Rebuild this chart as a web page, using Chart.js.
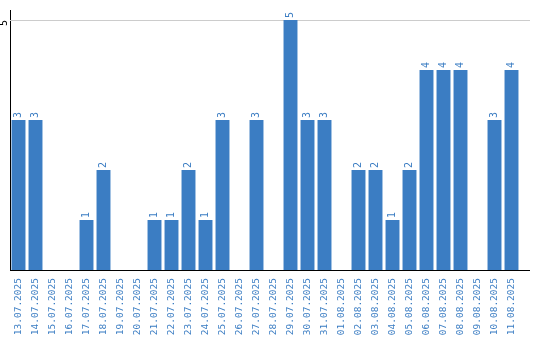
<!DOCTYPE html>
<html>
<head>
<meta charset="utf-8">
<script src="https://cdn.jsdelivr.net/npm/chart.js@4"></script>
<style>
  html, body { margin: 0; padding: 0; background: #fff; }
  canvas { display: block; }
</style>
</head>
<body>
<canvas id="chart" width="540" height="340"></canvas>
<script>
// Daily counts
const days = ['13.07.2025', '14.07.2025', '15.07.2025', '16.07.2025', '17.07.2025', '18.07.2025',
  '19.07.2025', '20.07.2025', '21.07.2025', '22.07.2025', '23.07.2025', '24.07.2025', '25.07.2025',
  '26.07.2025', '27.07.2025', '28.07.2025', '29.07.2025', '30.07.2025', '31.07.2025', '01.08.2025',
  '02.08.2025', '03.08.2025', '04.08.2025', '05.08.2025', '06.08.2025', '07.08.2025', '08.08.2025',
  '09.08.2025', '10.08.2025', '11.08.2025'];
const counts = [3, 3, 0, 0, 1, 2, 0, 0, 1, 1, 2, 1, 3, 0, 3, 0, 5, 3, 3, 0, 2, 2, 1, 2, 4, 4, 4, 0, 3, 4];
const yTicks = [5];

const blue = '#3b7dc3';
const labelFont = '10px "DejaVu Sans Mono"';

// gridline, value labels above the bars, rotated y tick, lines running past the last bar
const extras = {
    id: 'extras',
    beforeDatasetsDraw(chart) {
        const ctx = chart.ctx;
        const y = chart.scales.y;
        const area = chart.chartArea;
        ctx.save();
        ctx.strokeStyle = '#cccccc';
        ctx.lineWidth = 1;
        yTicks.forEach(function(v) {
            const py = Math.round(y.getPixelForValue(v)) + 0.5;
            ctx.beginPath();
            ctx.moveTo(area.left, py);
            ctx.lineTo(area.right + 10, py);
            ctx.stroke();
        });
        ctx.restore();
    },
    afterDatasetsDraw(chart) {
        const ctx = chart.ctx;
        const meta = chart.getDatasetMeta(0);
        ctx.save();
        ctx.font = labelFont;
        ctx.fillStyle = blue;
        meta.data.forEach(function(bar, i) {
            if (!counts[i]) return;
            ctx.save();
            ctx.translate(bar.x, bar.y - 2);
            ctx.rotate(-Math.PI / 2);
            ctx.textAlign = 'left';
            ctx.textBaseline = 'middle';
            ctx.fillText(String(counts[i]), 0, 0);
            ctx.restore();
        });

        const y = chart.scales.y;
        const area = chart.chartArea;
        ctx.fillStyle = '#000';
        yTicks.forEach(function(v) {
            const py = y.getPixelForValue(v);
            ctx.save();
            ctx.translate(4, py + 3);
            ctx.rotate(-Math.PI / 2);
            ctx.textAlign = 'center';
            ctx.textBaseline = 'middle';
            ctx.fillText(String(v), 0, 0);
            ctx.restore();
        });
        ctx.strokeStyle = '#000';
        ctx.lineWidth = 1;
        ctx.beginPath();
        ctx.moveTo(area.right, area.bottom + 0.5);
        ctx.lineTo(area.right + 10, area.bottom + 0.5);
        ctx.stroke();
        ctx.restore();
    }
};

new Chart(document.getElementById('chart'), {
    type: 'bar',
    data: {
        labels: days,
        datasets: [{
            data: counts,
            backgroundColor: blue,
            barPercentage: 0.82,
            categoryPercentage: 1
        }]
    },
    options: {
        responsive: false,
        animation: false,
        layout: { padding: { left: 0, right: 20, top: 10, bottom: 0 } },
        plugins: { legend: { display: false }, tooltip: { enabled: false } },
        scales: {
            x: {
                grid: { display: false },
                border: { color: '#000', width: 1 },
                ticks: {
                    color: blue,
                    font: { family: 'DejaVu Sans Mono', size: 9.5 },
                    autoSkip: false,
                    minRotation: 90,
                    maxRotation: 90,
                    padding: 0
                },
                afterFit(scale) { scale.height = 70; }
            },
            y: {
                min: 0,
                max: 5.2,
                ticks: { display: false, stepSize: 1 },
                grid: { display: false },
                border: { color: '#000', width: 1 },
                afterFit(scale) { scale.width = 10; }
            }
        }
    },
    plugins: [extras]
});
</script>
</body>
</html>
